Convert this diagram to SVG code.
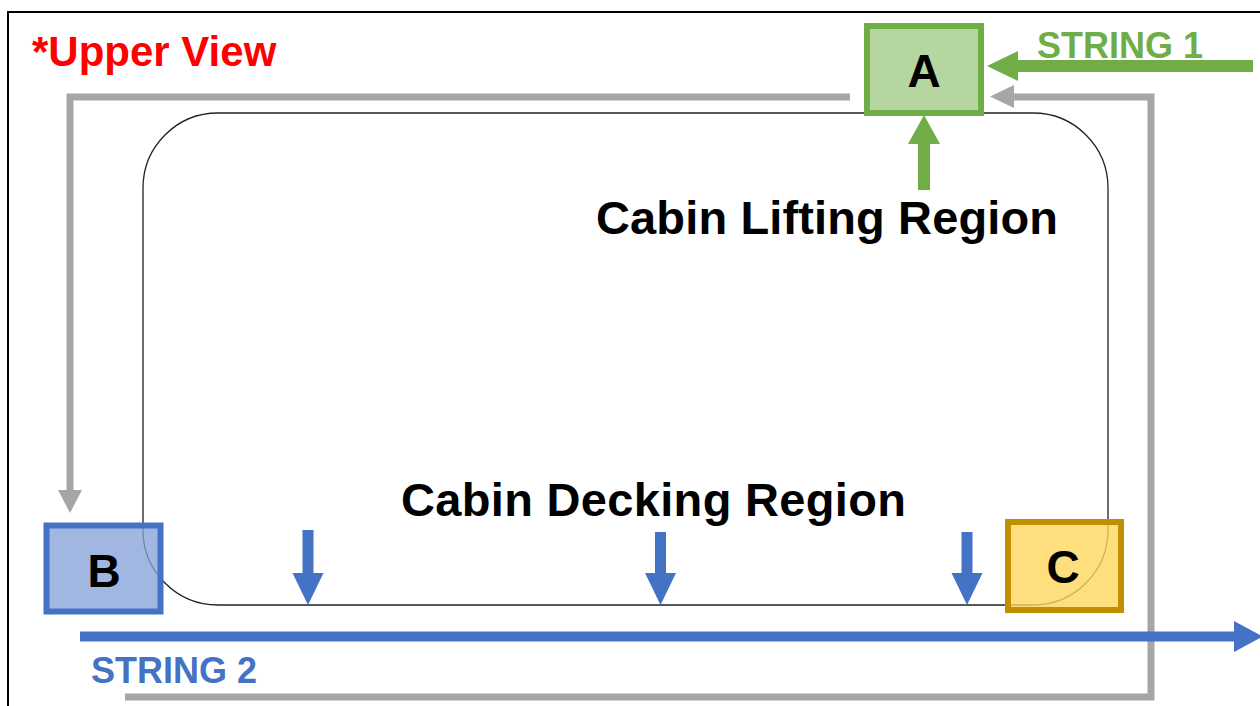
<svg xmlns="http://www.w3.org/2000/svg" width="1260" height="706" viewBox="0 0 1260 706">
  <style>
    .t { font-family: "Liberation Sans", Arial, sans-serif; font-weight: bold; }
    .gray { fill: none; stroke: #a6a6a6; stroke-width: 7; }
    .grayh { fill: #a6a6a6; }
    .green { fill: #70ad47; }
    .blue { fill: #4472c4; }
    .box { stroke-width: 6; }
  </style>
  <rect x="0" y="0" width="1260" height="706" fill="#ffffff"/>
  <rect id="frame" x="8" y="12" width="1300" height="800" fill="none" stroke="#000" stroke-width="2"/>
  <text id="title" class="t" x="32" y="66" font-size="42" fill="#ff0000">*Upper View</text>

  <g id="cabin">
    <rect x="143" y="113" width="965" height="492" rx="75" ry="75" fill="none" stroke="#222" stroke-width="1.3"/>
  </g>

  <g id="connectors">
    <path class="gray" d="M850,97 H70 V492"/>
    <polygon class="grayh" points="58,490 82,490 70,513"/>
    <path class="gray" d="M125,697 H1151 V97 H1012"/>
    <polygon class="grayh" points="1014,85 1014,108 990,96.5"/>
    <rect class="green" x="1016" y="60" width="237" height="12"/>
    <polygon class="green" points="1018,51 1018,81 987,66"/>
    <rect class="green" x="918" y="142" width="12" height="48"/>
    <polygon class="green" points="908,144 940,144 924,115"/>
    <rect class="blue" x="80" y="631.5" width="1156" height="10"/>
    <polygon class="blue" points="1234,621 1234,652 1263,636.5"/>
    <rect class="blue" x="302.5" y="530" width="11" height="45"/>
    <polygon class="blue" points="292.5,573 323.5,573 308,605"/>
    <rect class="blue" x="655" y="532" width="11" height="43"/>
    <polygon class="blue" points="645,573 676,573 660.5,605"/>
    <rect class="blue" x="961.5" y="532" width="11" height="43"/>
    <polygon class="blue" points="951.5,573 982.5,573 967,605"/>
  </g>

  <g id="nodeA">
    <rect class="box" x="867" y="26" width="114" height="87" fill="#a9cf8f" fill-opacity="0.85" stroke="#70ad47"/>
    <text class="t" x="924" y="87" font-size="46" text-anchor="middle" fill="#000">A</text>
  </g>
  <g id="nodeB">
    <rect class="box" x="46.5" y="525.5" width="114" height="86" fill="#86a3d9" fill-opacity="0.78" stroke="#4472c4" stroke-width="7"/>
    <text class="t" x="104" y="587" font-size="46" text-anchor="middle" fill="#000">B</text>
  </g>
  <g id="nodeC">
    <rect class="box" x="1008" y="522" width="113" height="88" fill="#ffd65c" fill-opacity="0.8" stroke="#bf9000"/>
    <text class="t" x="1063" y="583" font-size="46" text-anchor="middle" fill="#000">C</text>
  </g>

  <g id="labels">
    <text class="t" x="596" y="234" font-size="47" fill="#000" textLength="462" lengthAdjust="spacing">Cabin Lifting Region</text>
    <text class="t" x="401" y="516" font-size="47" fill="#000" textLength="505" lengthAdjust="spacing">Cabin Decking Region</text>
    <text class="t" x="1037" y="58" font-size="36" fill="#70ad47">STRING 1</text>
    <text class="t" x="91" y="683" font-size="36" fill="#4472c4">STRING 2</text>
  </g>
</svg>
